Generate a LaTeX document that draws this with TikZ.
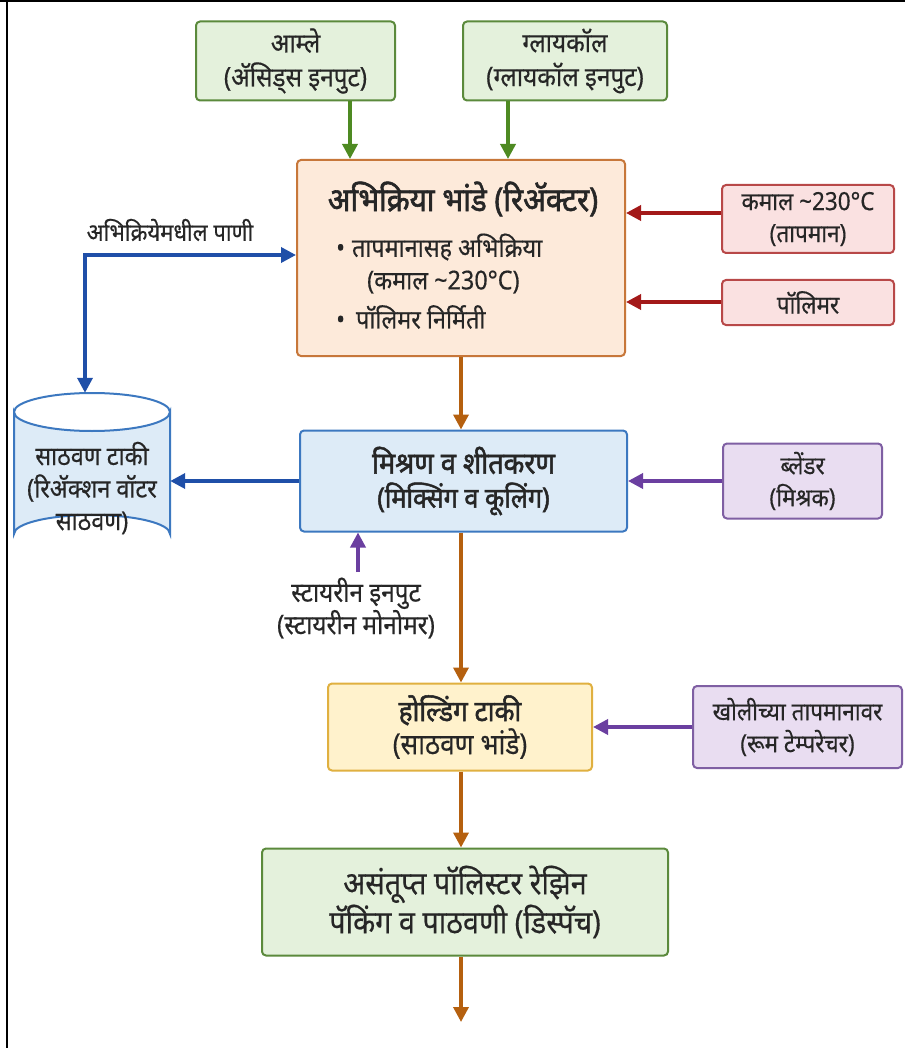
\documentclass[tikz,border=0pt]{standalone}
\usepackage{fontspec}
\setmainfont{Noto Sans}[Script=Devanagari, FakeStretch=0.9, FakeBold=0.4, BoldFont={Noto Sans}, BoldFeatures={FakeBold=1.8}]
\usetikzlibrary{arrows.meta}
\definecolor{txt}{HTML}{262626}
\definecolor{gfill}{HTML}{E4F1DC}
\definecolor{gdraw}{HTML}{5B8A3C}
\definecolor{garrow}{HTML}{4E8A22}
\definecolor{pfill}{HTML}{FDEADA}
\definecolor{pdraw}{HTML}{C7773A}
\definecolor{rfill}{HTML}{FAE1E1}
\definecolor{rdraw}{HTML}{B84848}
\definecolor{rarrow}{HTML}{A31919}
\definecolor{bfill}{HTML}{DDEBF7}
\definecolor{bdraw}{HTML}{3C78C0}
\definecolor{barrow}{HTML}{1F4FA8}
\definecolor{vfill}{HTML}{E9DDF1}
\definecolor{vdraw}{HTML}{7F5FA3}
\definecolor{varrow}{HTML}{6B3FA0}
\definecolor{yfill}{HTML}{FFF2CC}
\definecolor{ydraw}{HTML}{E0B040}
\definecolor{oarrow}{HTML}{B5600F}
\begin{document}
\begin{tikzpicture}[x=1pt,y=-1pt,
  box/.style={draw, rounded corners=4pt, line width=2pt, align=center, inner sep=0pt, text=txt,
    font=\fontsize{27}{34}\selectfont},
  greenbox/.style={box, fill=gfill, draw=gdraw},
  peachbox/.style={box, fill=pfill, draw=pdraw},
  redbox/.style={box, fill=rfill, draw=rdraw, font=\fontsize{25}{32}\selectfont},
  bluebox/.style={box, fill=bfill, draw=bdraw},
  violetbox/.style={box, fill=vfill, draw=vdraw, font=\fontsize{25}{32}\selectfont},
  yellowbox/.style={box, fill=yfill, draw=ydraw},
  lbl/.style={text=txt, align=center, inner sep=0pt, font=\fontsize{25}{30}\selectfont},
  tipend/.style={-{Triangle[length=15pt,width=15pt]}},
  conn/.style={line width=3.5pt, tipend},
  garr/.style={conn, draw=garrow},
  rarr/.style={conn, draw=rarrow},
  barr/.style={conn, draw=barrow},
  varr/.style={conn, draw=varrow},
  oarr/.style={conn, draw=oarrow},
]
\useasboundingbox (0,0) rectangle (905,1048);
\fill[white] (0,0) rectangle (905,1048);
\draw[line width=2.5pt] (0,1.2) -- (905,1.2);
\draw[line width=2.5pt] (7,0) -- (7,1048);

% top inputs
\node[greenbox, minimum width=199pt, minimum height=79pt] (acid) at (295.5,61) {आम्ले\\(ॲसिड्स इनपुट)};
\node[greenbox, minimum width=204pt, minimum height=79pt] (glycol) at (565,61) {ग्लायकॉल\\(ग्लायकॉल इनपुट)};

% reactor
\node[peachbox, minimum width=328pt, minimum height=196pt] (reactor) at (461,258) {};
\node[lbl, font=\fontsize{33}{36}\selectfont\bfseries] (rtitle) at (463,199) {अभिक्रिया भांडे (रिॲक्टर)};
\node[lbl, anchor=west, font=\fontsize{26}{30}\selectfont] (rb1) at (336,247) {•\hspace{7pt}तापमानासह अभिक्रिया};
\node[lbl, anchor=west, font=\fontsize{26}{30}\selectfont] (rb2) at (367,282) {(कमाल \textasciitilde230°C)};
\node[lbl, anchor=west, font=\fontsize{26}{30}\selectfont] (rb3) at (336,317) {•\hspace{11pt}पॉलिमर निर्मिती};

% red side inputs
\node[redbox, minimum width=172pt, minimum height=68pt] (temp) at (808,219) {कमाल \textasciitilde230°C\\(तापमान)};
\node[redbox, minimum width=172pt, minimum height=45pt] (poly) at (808,302.5) {पॉलिमर};

% mixing
\node[bluebox, minimum width=327pt, minimum height=101pt] (mix) at (463.5,481) {\fontsize{30}{35}\selectfont\bfseries मिश्रण व शीतकरण\\\fontsize{28}{35}\selectfont\bfseries (मिक्सिंग व कूलिंग)};
\node[violetbox, minimum width=159pt, minimum height=75pt] (blend) at (802.5,481) {ब्लेंडर\\(मिश्रक)};

% storage tank (cylinder)
\draw[line width=2pt, draw=bdraw, fill=bfill]
  (14,412) -- (14,534) arc[start angle=180, end angle=360, x radius=78, y radius=19]
  -- (170,412) arc[start angle=0, end angle=180, x radius=78, y radius=19] -- cycle;
\draw[line width=2pt, draw=bdraw] (14,412) arc[start angle=180, end angle=360, x radius=78, y radius=19];
\node[inner sep=0pt, minimum width=156pt, minimum height=160pt] (tank) at (92,473) {};
\node[lbl, font=\fontsize{26}{32.5}\selectfont] (tanktext) at (92,488) {साठवण टाकी\\(रिॲक्शन वॉटर\\साठवण)};

% water loop
\coordinate (wcorner) at (85,255);
\node[lbl, font=\fontsize{24.5}{30}\selectfont] (water) at (170,230) {अभिक्रियेमधील पाणी};

% styrene
\coordinate (styin) at (358,572);
\node[lbl, font=\fontsize{27}{30}\selectfont] (styrene) at (356,608) {स्टायरीन इनपुट\\(स्टायरीन मोनोमर)};

% holding
\node[yellowbox, minimum width=264pt, minimum height=87pt, font=\fontsize{29}{33}\selectfont] (hold) at (460,727) {\bfseries होल्डिंग टाकी\\(साठवण भांडे)};
\node[violetbox, minimum width=209pt, minimum height=82pt] (room) at (797.5,727) {खोलीच्या तापमानावर\\(रूम टेम्परेचर)};

% final
\node[greenbox, minimum width=406pt, minimum height=107pt, font=\fontsize{32}{39}\selectfont] (final) at (465,902) {असंतूप्त पॉलिस्टर रेझिन\\पॅकिंग व पाठवणी (डिस्पॅच)};
\coordinate (out) at (461,1022);

% connectors
\draw[garr] (acid.south -| 350,0) -- (reactor.north -| 350,0);
\draw[garr] (glycol.south -| 508,0) -- (reactor.north -| 508,0);
\draw[rarr] (temp.west |- 0,213) -- (reactor.east |- 0,213);
\draw[rarr] (poly.west |- 0,302) -- (reactor.east |- 0,302);
\draw[barr, {Triangle[length=15pt,width=15pt]}-{Triangle[length=15pt,width=15pt]}] (tank.north -| wcorner) -- (wcorner) -- (wcorner -| reactor.west);
\draw[barr] (mix.west) -- (tank.east |- mix.west);
\draw[varr] (blend.west) -- (mix.east);
\draw[varr] (styin) -- (styin |- mix.south);
\draw[oarr] (reactor.south -| 461,0) -- (mix.north -| 461,0);
\draw[oarr] (mix.south -| 461,0) -- (hold.north -| 461,0);
\draw[varr] (room.west) -- (hold.east);
\draw[oarr] (hold.south -| 461,0) -- (final.north -| 461,0);
\draw[oarr] (final.south -| 461,0) -- (out);
\end{tikzpicture}
\end{document}
